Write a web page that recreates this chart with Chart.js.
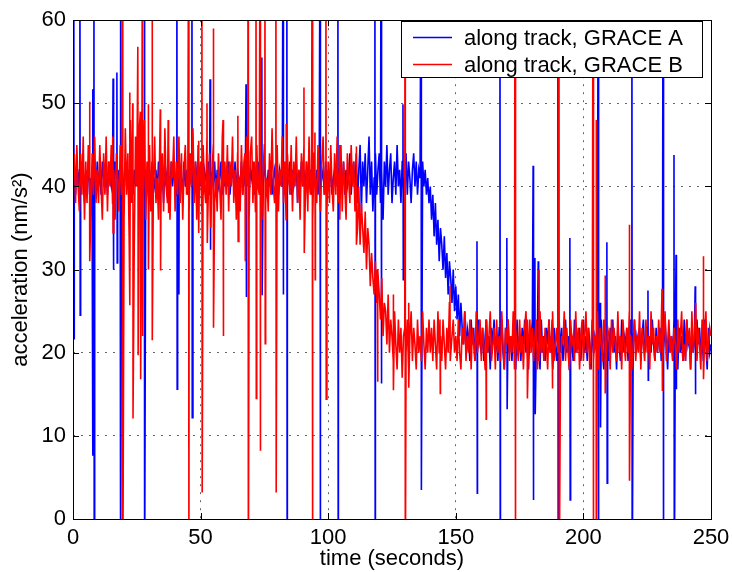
<!DOCTYPE html>
<html>
<head>
<meta charset="utf-8">
<script src="https://cdn.jsdelivr.net/npm/chart.js@4.4.1/dist/chart.umd.min.js"></script>
<style>
  html, body { margin: 0; padding: 0; background: #fff; }
  #wrap { width: 732px; height: 572px; }
</style>
</head>
<body>
<div id="wrap"><canvas id="accelChart" width="732" height="572"></canvas></div>
<script>
// Axis setup
const xTicks = [0, 50, 100, 150, 200, 250];
const yTicks = [0, 10, 20, 30, 40, 50, 60];
const seriesLabels = ['along track, GRACE A', 'along track, GRACE B'];
const STEP = 0.5; // seconds between base samples

// Base samples, every 0.5 s (t = 0 .. 250), one row = 10 s
const graceA = [
    41, 42, 39, 43, 40, 42, 39, 43, 41, 38, 42, 40, 43, 39, 41, 36, 40, 42, 39, 43,
    40, 42, 39, 43, 41, 40, 42, 39, 43, 41, 40, 42, 39, 43, 41, 38, 42, 40, 43, 39,
    41, 43, 40, 42, 39, 43, 41, 39, 42, 40, 43, 41, 39, 42, 40, 43, 39, 42, 41, 40,
    42, 39, 43, 41, 40, 42, 39, 43, 41, 40, 42, 38, 43, 40, 42, 41, 39, 43, 40, 42,
    41, 39, 43, 40, 42, 41, 39, 43, 40, 42, 39, 43, 41, 40, 42, 39, 43, 41, 40, 42,
    40, 43, 39, 42, 41, 40, 43, 39, 42, 41, 40, 43, 39, 42, 40, 41, 43, 39, 42, 40,
    42, 40, 43, 39, 41, 42, 40, 43, 39, 42, 41, 40, 43, 39, 42, 40, 41, 43, 39, 42,
    41, 43, 39, 42, 40, 43, 41, 39, 42, 40, 43, 41, 39, 42, 40, 43, 39, 41, 42, 40,
    43, 39, 42, 41, 40, 43, 39, 42, 40, 41, 43, 39, 42, 40, 41, 43, 38, 42, 40, 43,
    40, 42, 39, 43, 41, 40, 42, 39, 43, 41, 40, 42, 39, 43, 40, 41, 42, 39, 43, 40,
    42, 40, 43, 39, 41, 42, 40, 43, 39, 42, 41, 40, 43, 39, 42, 40, 41, 44, 39, 42,
    43, 39, 44, 38, 42, 45, 37, 43, 40, 44, 38, 42, 46, 39, 43, 37, 41, 44, 39, 42,
    44, 38, 42, 36, 43, 40, 45, 39, 42, 44, 38, 41, 43, 39, 45, 40, 42, 38, 43, 41,
    40, 44, 39, 43, 41, 38, 42, 44, 40, 43, 39, 42, 41, 38, 43, 40, 42, 39, 41, 38,
    40, 36, 39, 34, 38, 33, 36, 31, 35, 33, 30, 34, 29, 32, 27, 31, 29, 26, 30, 25,
    28, 24, 27, 22, 26, 23, 21, 25, 20, 23, 22, 19, 24, 21, 23, 19, 22, 20, 24, 21,
    20, 23, 19, 22, 24, 20, 22, 18, 23, 21, 24, 20, 22, 19, 23, 21, 24, 20, 18, 23,
    21, 24, 20, 22, 19, 23, 21, 18, 24, 20, 22, 19, 23, 21, 24, 20, 22, 18, 23, 21,
    24, 19, 22, 20, 23, 21, 18, 24, 20, 22, 19, 23, 21, 24, 20, 22, 18, 23, 21, 19,
    22, 24, 20, 23, 19, 21, 24, 20, 22, 18, 23, 21, 19, 24, 20, 22, 21, 23, 19, 22,
    24, 20, 22, 19, 23, 21, 18, 24, 20, 22, 21, 23, 19, 22, 24, 20, 18, 23, 21, 22,
    19, 23, 21, 24, 20, 22, 18, 23, 21, 19, 24, 20, 22, 21, 23, 19, 22, 24, 20, 21,
    24, 20, 22, 21, 23, 19, 22, 24, 20, 21, 23, 18, 22, 20, 24, 21, 19, 23, 20, 22,
    23, 19, 22, 20, 24, 21, 18, 23, 20, 22, 19, 24, 21, 22, 18, 23, 20, 22, 19, 24,
    19, 24, 21, 22, 18, 23, 20, 22, 19, 24, 21, 23, 20, 22, 19, 24, 21, 18, 23, 20,
    21
];
const graceB = [
    41, 44, 38, 45, 40, 37, 44, 39, 46, 36, 43, 38, 45, 40, 37, 44, 39, 46, 38, 42,
    38, 45, 40, 36, 44, 39, 46, 37, 43, 40, 45, 38, 42, 36, 44, 41, 37, 45, 39, 43,
    36, 47, 39, 44, 34, 48, 38, 45, 33, 46, 40, 37, 47, 35, 44, 39, 48, 36, 43, 38,
    45, 37, 43, 40, 46, 38, 41, 36, 45, 39, 44, 37, 47, 40, 38, 45, 36, 43, 41, 46,
    37, 43, 39, 46, 38, 44, 36, 42, 45, 39, 41, 37, 44, 40, 47, 38, 43, 36, 45, 40,
    43, 37, 45, 40, 38, 46, 39, 44, 35, 42, 45, 38, 41, 37, 44, 40, 36, 46, 39, 43,
    39, 45, 37, 43, 40, 46, 38, 42, 36, 44, 41, 37, 45, 39, 43, 38, 46, 40, 36, 44,
    46, 38, 43, 37, 45, 40, 39, 44, 36, 42, 45, 38, 41, 37, 44, 39, 47, 40, 38, 43,
    45, 37, 42, 40, 46, 38, 43, 36, 44, 41, 39, 45, 37, 43, 40, 46, 38, 42, 36, 44,
    40, 45, 38, 43, 37, 46, 39, 42, 36, 44, 41, 38, 45, 40, 37, 43, 46, 39, 42, 37,
    43, 38, 45, 40, 37, 44, 39, 46, 38, 42, 45, 37, 43, 40, 36, 44, 41, 38, 45, 40,
    43, 37, 41, 35, 40, 33, 38, 35, 32, 37, 30, 35, 33, 28, 32, 29, 27, 31, 26, 30,
    27, 24, 29, 22, 26, 25, 21, 27, 20, 24, 22, 19, 25, 21, 18, 24, 20, 23, 17, 22,
    23, 20, 24, 18, 22, 25, 19, 23, 21, 18, 24, 20, 22, 19, 25, 21, 18, 23, 20, 24,
    20, 23, 19, 24, 21, 18, 25, 20, 22, 19, 24, 21, 18, 23, 20, 26, 19, 22, 24, 20,
    22, 19, 24, 20, 18, 23, 21, 25, 19, 22, 20, 24, 18, 23, 21, 19, 25, 20, 22, 24,
    19, 23, 21, 18, 24, 20, 22, 25, 19, 21, 23, 18, 24, 20, 22, 19, 25, 21, 18, 23,
    21, 24, 19, 22, 20, 25, 18, 23, 21, 19, 24, 20, 22, 18, 23, 25, 19, 21, 24, 20,
    23, 19, 22, 24, 18, 21, 25, 20, 22, 19, 23, 21, 18, 24, 20, 22, 25, 19, 21, 23,
    20, 24, 18, 22, 21, 25, 19, 23, 20, 18, 24, 21, 22, 19, 25, 20, 23, 18, 22, 24,
    19, 22, 25, 20, 23, 18, 21, 24, 19, 22, 20, 25, 18, 23, 21, 19, 24, 22, 20, 23,
    22, 18, 24, 20, 23, 21, 19, 25, 20, 22, 18, 24, 21, 19, 23, 20, 25, 22, 18, 21,
    24, 19, 22, 20, 25, 18, 23, 21, 19, 24, 20, 22, 18, 25, 21, 23, 19, 22, 20, 24,
    20, 23, 18, 22, 25, 19, 21, 24, 20, 22, 19, 23, 21, 18, 24, 20, 22, 25, 19, 21,
    19, 24, 21, 23, 18, 25, 20, 22, 26, 19, 23, 21, 18, 24, 20, 22, 25, 19, 21, 23,
    22
];

// Spikes: time, first value, value right after
const spikeTimeA = [0.3, 2.7, 7.7, 8.2, 15.7, 17.2, 18.6, 28, 40.7, 41.5, 46.6, 53.7, 67.8, 74, 82.3, 83.8, 96.8, 103.8, 118.3, 120.7, 129.3, 136.4, 158.3, 167.3, 170, 180.3, 181, 182.3, 190, 194.7, 205.8, 206.6, 209.2, 219, 225.3, 231.2, 235.5, 236.3, 243.8];
const spikeHighA = [75, 75, 51.7, 75, 53, 53.7, 75, 75, 75, 27, 75, 52.9, 52.3, 55.5, 75, 75, 75, 75, 75, 75, 49.9, 75, 33.4, 75, 33.8, 42.5, 31.4, 31, 75, 33.8, 75, 26, 33.3, 75, 27.5, 75, 43.8, 31.8, 28];
const spikeLowA = [21.7, 24.5, 7.6, -10, 30, 30.8, -10, -10, 15.6, 43, 12.2, 32.4, 26.7, 26.9, 27, -10, -10, -10, -10, 16.3, 28.8, 3.5, 3.1, -10, 13.2, 2.3, 12.6, 19, -10, 2.3, -10, 11, 4.3, -10, 16.7, -10, -10, 15.6, 15];

const spikeTimeB = [6.5, 15.6, 19.4, 22.2, 23.4, 25.4, 26.4, 27.2, 29.5, 31, 34.2, 37.3, 45.3, 49.2, 50.5, 52.5, 55, 58.8, 64.6, 67.4, 68.6, 71.7, 73.3, 75.2, 79.5, 83.5, 90.5, 93.7, 94.8, 99.1, 104.5, 111, 119.2, 125.5, 130.1, 131.5, 143.8, 147.7, 161.8, 173.2, 178, 182.6, 187.7, 190.4, 203.8, 205, 208.5, 218, 230.8, 247];
const spikeHighB = [50.2, 46, 75, 51.3, 50, 56.8, 49, 75, 49.9, 75, 49.3, 48, 75, 45.5, 75, 50, 59, 48, 48.5, 44, 75, 75, 75, 75, 75, 47.5, 51.9, 75, 46.5, 75, 45, 44.8, 30, 27, 75, 26, 24, 28, 24, 75, 24, 30, 24, 75, 75, 48, 29.3, 35.4, 27.7, 31.6];
const spikeLowB = [31, 34.4, -10, 25.7, 12.1, 19.7, 16.8, 22, 30, 21.5, 29.9, 36.8, -10, 34.4, 3.2, 33.2, 23, 22, 33.4, 31, -10, 14.5, 8.2, 21.1, 3.2, 37, 32, -10, 28.8, 14.4, 36, 33, 16.5, 15.5, -10, 15.8, 15.1, 19, 12, -10, 14.5, 19, 15.7, -10, -10, -10, 15.1, 4.6, 15.4, 16.8];

const FONT = "'Liberation Sans', Arial, Helvetica, sans-serif";
const colors = { a: '#0000ff', b: '#ff0000' };

function buildPoints(base, times, highs, lows) {
    const pts = base.map((v, i) => ({ x: i * STEP, y: v }));
    times.forEach((t, k) => {
        pts.push({ x: t, y: highs[k] });
        pts.push({ x: t + 0.12, y: lows[k] });
    });
    pts.sort((p, q) => p.x - q.x);
    return pts;
}

// Frame, inside ticks and legend box (matlab look)
const matlabFrame = {
    id: 'matlabFrame',
    afterDatasetsDraw(chart) {
        const { ctx, chartArea: a, scales } = chart;
        ctx.save();
        ctx.strokeStyle = '#000';
        ctx.lineWidth = 1;
        ctx.strokeRect(Math.round(a.left) + 0.5, Math.round(a.top) + 0.5,
            Math.round(a.right - a.left), Math.round(a.bottom - a.top));
        const len = 6;
        ctx.beginPath();
        xTicks.forEach(v => {
            const px = Math.round(scales.x.getPixelForValue(v)) + 0.5;
            ctx.moveTo(px, a.bottom); ctx.lineTo(px, a.bottom - len);
            ctx.moveTo(px, a.top); ctx.lineTo(px, a.top + len);
        });
        yTicks.forEach(v => {
            const py = Math.round(scales.y.getPixelForValue(v)) + 0.5;
            ctx.moveTo(a.left, py); ctx.lineTo(a.left + len, py);
            ctx.moveTo(a.right, py); ctx.lineTo(a.right - len, py);
        });
        ctx.stroke();

        // legend
        const lx = 401.5, ly = 21.5, lw = 301, lh = 56;
        ctx.fillStyle = '#fff';
        ctx.fillRect(lx, ly, lw, lh);
        ctx.strokeRect(lx, ly, lw, lh);
        ctx.font = '22px ' + FONT;
        ctx.textBaseline = 'middle';
        ctx.textAlign = 'left';
        [[colors.a, 37.5], [colors.b, 64.5]].forEach(([c, y], i) => {
            ctx.strokeStyle = c;
            ctx.lineWidth = 1.6;
            ctx.beginPath();
            ctx.moveTo(413, y); ctx.lineTo(452, y);
            ctx.stroke();
            ctx.fillStyle = '#000';
            ctx.fillText(seriesLabels[i], 464, y + 1);
        });
        ctx.restore();
    }
};

const ctx = document.getElementById('accelChart');
new Chart(ctx, {
    type: 'line',
    data: {
        datasets: [{
            label: seriesLabels[0],
            data: buildPoints(graceA, spikeTimeA, spikeHighA, spikeLowA),
            borderColor: colors.a,
            borderWidth: 1.6,
            pointRadius: 0,
            tension: 0,
            order: 2
        }, {
            label: seriesLabels[1],
            data: buildPoints(graceB, spikeTimeB, spikeHighB, spikeLowB),
            borderColor: colors.b,
            borderWidth: 1.6,
            pointRadius: 0,
            tension: 0,
            order: 1
        }]
    },
    options: {
        responsive: false,
        animation: false,
        events: [],
        layout: { padding: { top: 15, right: 21, left: 0, bottom: 0 } },
        plugins: {
            legend: { display: false },
            tooltip: { enabled: false }
        },
        scales: {
            x: {
                type: 'linear',
                min: 0,
                max: 250,
                afterBuildTicks: scale => { scale.ticks = xTicks.map(v => ({ value: v })); },
                afterFit: scale => {
                    scale.height = 53;
                    scale.paddingRight = 0;
                    scale.paddingLeft = 0;
                },
                ticks: { color: '#000', padding: 6, maxRotation: 0, font: { family: FONT, size: 22 } },
                grid: { color: '#666', drawTicks: false },
                border: { display: false, dash: [2, 6] },
                title: {
                    display: true,
                    text: 'time (seconds)',
                    color: '#000',
                    font: { family: FONT, size: 22 },
                    padding: { top: 0, bottom: 0 }
                }
            },
            y: {
                min: 0,
                max: 60,
                afterBuildTicks: scale => { scale.ticks = yTicks.map(v => ({ value: v })); },
                afterFit: scale => { scale.width = 73; },
                ticks: { color: '#000', padding: 7, font: { family: FONT, size: 22 } },
                grid: { color: '#666', drawTicks: false },
                border: { display: false, dash: [2, 6] },
                title: {
                    display: true,
                    text: 'acceleration (nm/s²)',
                    color: '#000',
                    font: { family: FONT, size: 22 },
                    padding: { top: 8, bottom: 0 }
                }
            }
        }
    },
    plugins: [matlabFrame]
});
</script>
</body>
</html>
